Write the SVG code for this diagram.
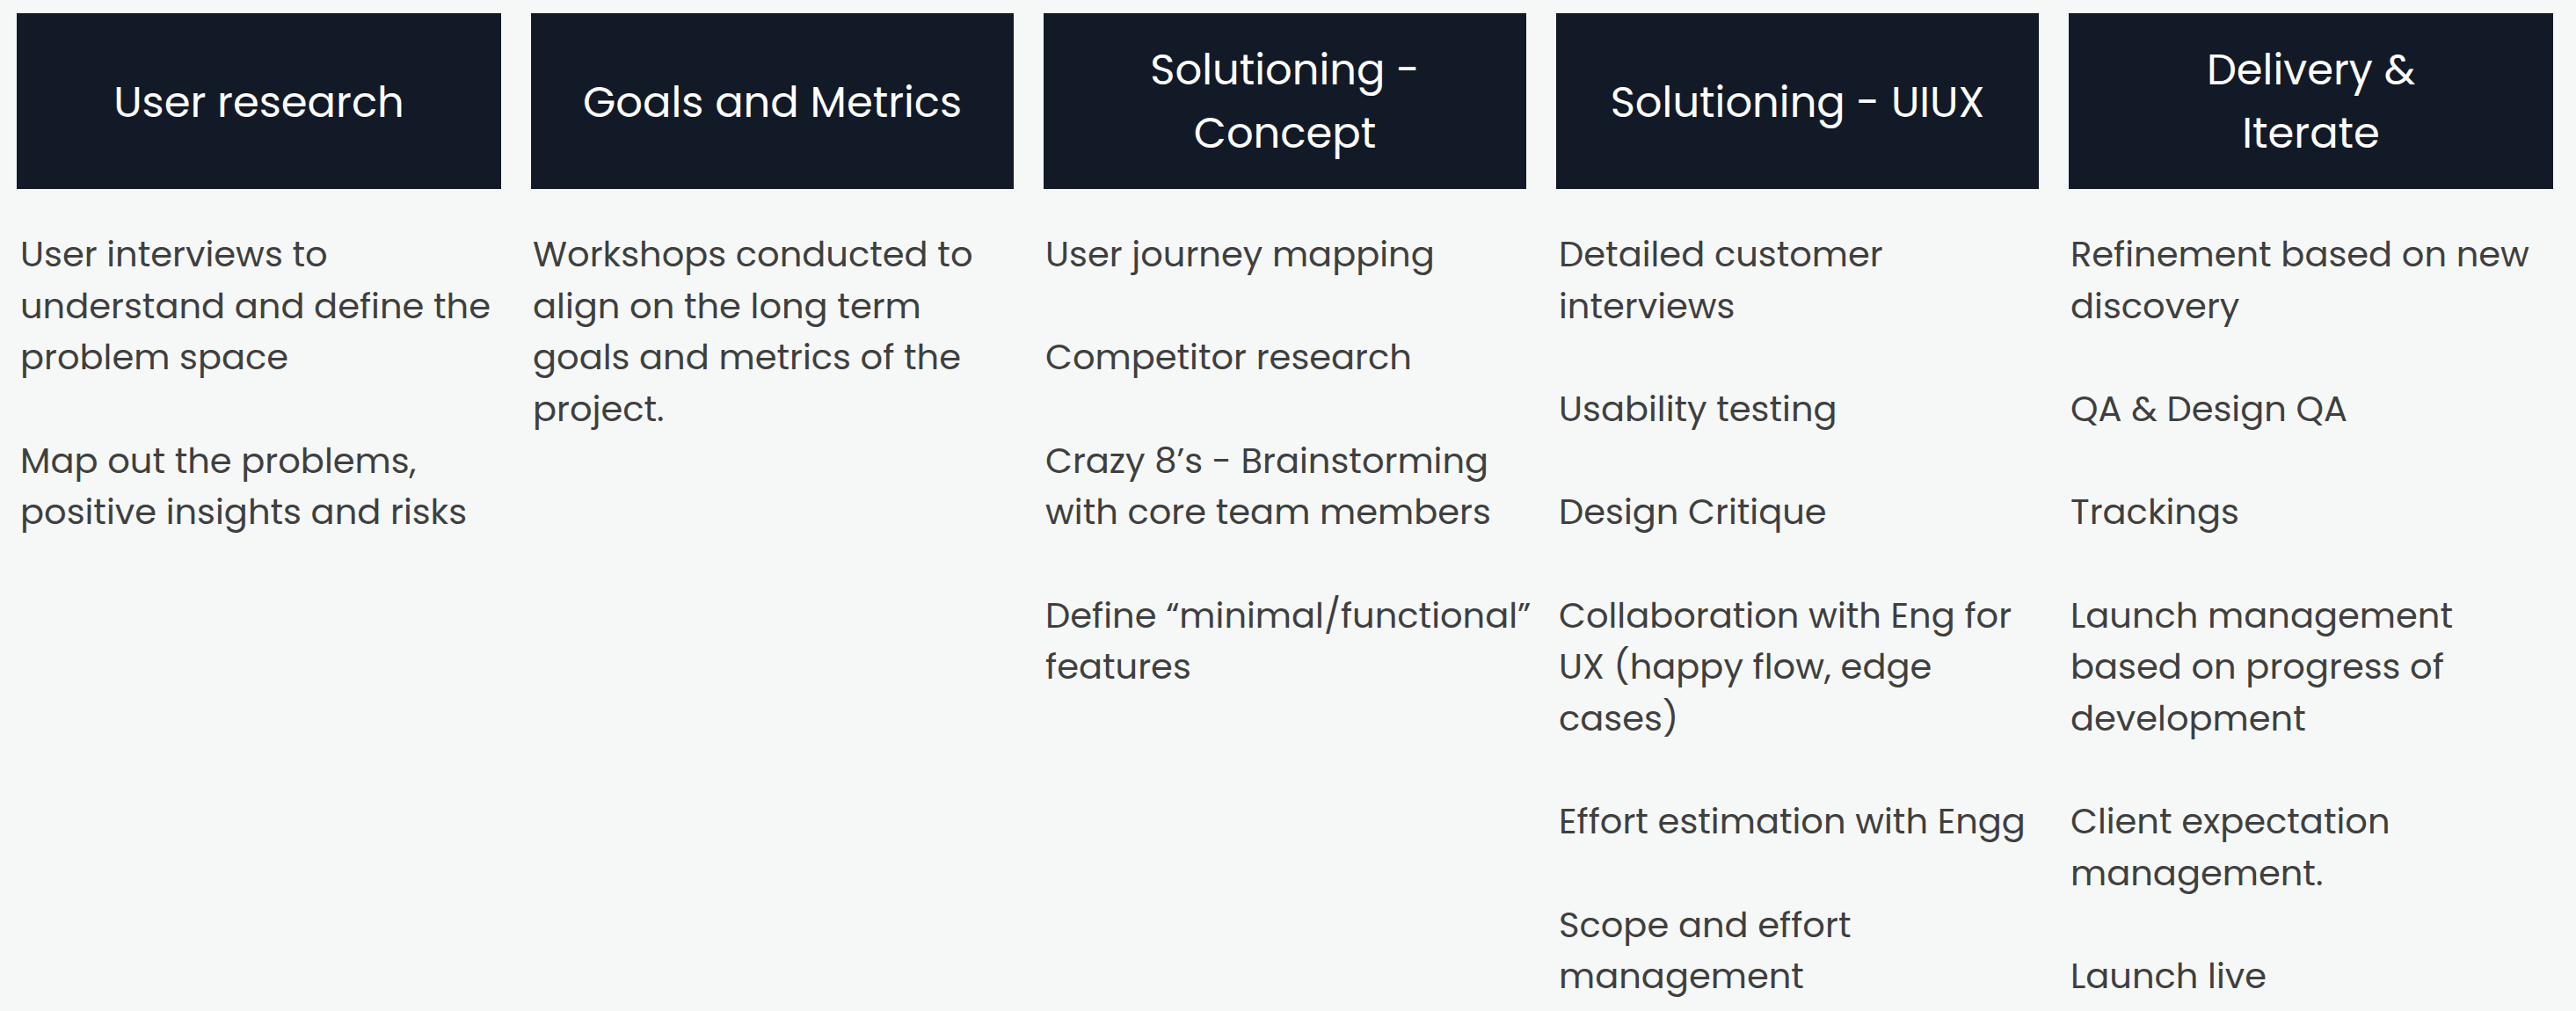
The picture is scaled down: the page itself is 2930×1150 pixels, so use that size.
<svg xmlns="http://www.w3.org/2000/svg" width="2930" height="1150" viewBox="0 0 2930 1150">
<style>
.h{fill:#131a27}
.ht{fill:#fff;font-family:Poppins,Inter,"Noto Sans",sans-serif;font-size:48px;text-anchor:middle}
.b{fill:#3f3f3f;font-family:Poppins,Inter,"Noto Sans",sans-serif;font-size:40px}
</style>
<rect width="2930" height="1150" fill="#f6f8f7"/>
<g id="col1"><rect class="h" x="19" y="15" width="551" height="200"/>
<text class="ht" x="294.5" y="133">User research</text>
<text class="b" x="23"><tspan x="23" y="303">User interviews to</tspan><tspan x="23" y="362">understand and define the</tspan><tspan x="23" y="420">problem space</tspan><tspan x="23" y="538">Map out the problems,</tspan><tspan x="23" y="596">positive insights and risks</tspan></text></g>
<g id="col2"><rect class="h" x="604" y="15" width="549" height="200"/>
<text class="ht" x="878.5" y="133">Goals and Metrics</text>
<text class="b"><tspan x="606" y="303">Workshops conducted to</tspan><tspan x="606" y="362">align on the long term</tspan><tspan x="606" y="420">goals and metrics of the</tspan><tspan x="606" y="479">project.</tspan></text></g>
<g id="col3"><rect class="h" x="1187" y="15" width="549" height="200"/>
<text class="ht"><tspan x="1461.5" y="96">Solutioning -</tspan><tspan x="1461.5" y="168">Concept</tspan></text>
<text class="b"><tspan x="1189" y="303">User journey mapping</tspan><tspan x="1189" y="420">Competitor research</tspan><tspan x="1189" y="538">Crazy 8’s - Brainstorming</tspan><tspan x="1189" y="596">with core team members</tspan><tspan x="1189" y="714">Define “minimal/functional”</tspan><tspan x="1189" y="772">features</tspan></text></g>
<g id="col4"><rect class="h" x="1770" y="15" width="549" height="200"/>
<text class="ht" x="2044.5" y="133">Solutioning - UIUX</text>
<text class="b"><tspan x="1773" y="303">Detailed customer</tspan><tspan x="1773" y="362">interviews</tspan><tspan x="1773" y="479">Usability testing</tspan><tspan x="1773" y="596">Design Critique</tspan><tspan x="1773" y="714">Collaboration with Eng for</tspan><tspan x="1773" y="772">UX (happy flow, edge</tspan><tspan x="1773" y="831">cases)</tspan><tspan x="1773" y="948">Effort estimation with Engg</tspan><tspan x="1773" y="1066">Scope and effort</tspan><tspan x="1773" y="1124">management</tspan></text></g>
<g id="col5"><rect class="h" x="2353" y="15" width="551" height="200"/>
<text class="ht"><tspan x="2628.5" y="96">Delivery &amp;</tspan><tspan x="2628.5" y="168">Iterate</tspan></text>
<text class="b"><tspan x="2355" y="303">Refinement based on new</tspan><tspan x="2355" y="362">discovery</tspan><tspan x="2355" y="479">QA &amp; Design QA</tspan><tspan x="2355" y="596">Trackings</tspan><tspan x="2355" y="714">Launch management</tspan><tspan x="2355" y="772">based on progress of</tspan><tspan x="2355" y="831">development</tspan><tspan x="2355" y="948">Client expectation</tspan><tspan x="2355" y="1007">management.</tspan><tspan x="2355" y="1124">Launch live</tspan></text></g>
<g id="connectors"/>
</svg>
